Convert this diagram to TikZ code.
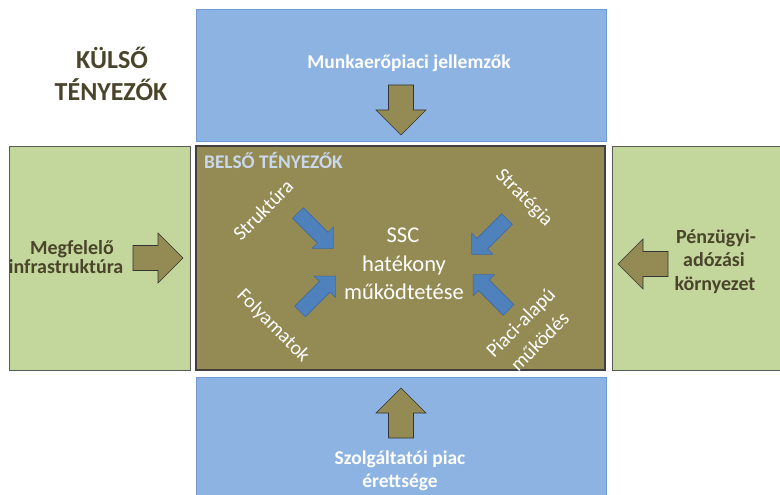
\documentclass[tikz,border=0pt]{standalone}
\usepackage{fontspec}
\setmainfont{Carlito}
\definecolor{boxblue}{HTML}{8DB3E2}
\definecolor{boxblueline}{HTML}{6E9BD4}
\definecolor{boxgreen}{HTML}{C3D69B}
\definecolor{olivefill}{HTML}{948A54}
\definecolor{olivetext}{HTML}{4A452A}
\definecolor{arrowblue}{HTML}{4F81BD}
\definecolor{arrowblueline}{HTML}{3C6AA3}
\definecolor{paleblue}{HTML}{CAD8EC}
\begin{document}
\begin{tikzpicture}[x=1pt,y=-1pt,
  panel/.style={anchor=north west,inner sep=0pt,outer sep=0pt},
  bluepanel/.style={panel,fill=boxblue,draw=boxblueline,line width=0.9pt},
  greenpanel/.style={panel,fill=boxgreen,draw=black!65,line width=0.9pt},
  innerpanel/.style={panel,fill=olivefill,draw=black!75,line width=1.3pt},
  darklabel/.style={anchor=base,inner sep=0pt,text=olivetext,font=\fontsize{20}{24}\selectfont\bfseries},
  whitelabel/.style={anchor=base,inner sep=0pt,text=white,font=\fontsize{19.5}{23}\selectfont\bfseries},
  factor/.style={anchor=center,inner sep=0pt,text=white,font=\fontsize{20}{27}\selectfont},
  coretext/.style={anchor=base,inner sep=0pt,text=white,font=\fontsize{22.5}{27}\selectfont},
  olivearrow/.style={fill=olivefill,draw=black!80,line width=0.6pt},
  bluearrow/.style={fill=arrowblue,draw=arrowblueline,line width=0.6pt},
  bigarrow/.pic={\path[pic actions] (0,-12.5) -- (25,-12.5) -- (25,-25) -- (50,0)
      -- (25,25) -- (25,12.5) -- (0,12.5) -- cycle;},
  smallarrow/.pic={\path[pic actions] (0,-7.5) -- (35,-7.5) -- (35,-15) -- (50,0)
      -- (35,15) -- (35,7.5) -- (0,7.5) -- cycle;}
]
\clip (0,0) rectangle (780,495);
\fill[white] (0,0) rectangle (780,495);

% outer panels
\node[bluepanel,minimum width=410pt,minimum height=132pt] (labour) at (196,9) {};
\node[bluepanel,minimum width=410pt,minimum height=130pt] (market) at (196,377) {};
\node[greenpanel,minimum width=181pt,minimum height=224pt] (infra) at (9,146) {};
\node[greenpanel,minimum width=180pt,minimum height=224pt] (finance) at (612,146) {};
% inner panel
\node[innerpanel,minimum width=409pt,minimum height=224pt] (inner) at (196,146) {};

% headings
\node[anchor=base,inner sep=0pt,text=olivetext,font=\fontsize{26}{32}\selectfont\bfseries] (ext1) at (112,69) {KÜLSŐ};
\node[anchor=base,inner sep=0pt,text=olivetext,font=\fontsize{26}{32}\selectfont\bfseries] (ext2) at (111,101) {TÉNYEZŐK};
\node[anchor=base west,inner sep=0pt,text=paleblue,font=\fontsize{19.3}{22}\selectfont\bfseries] (intl) at (204,168) {BELSŐ TÉNYEZŐK};

% outer factor labels
\node[whitelabel] (lab) at (409,69) {Munkaerőpiaci jellemzők};
\node[whitelabel] (mkt1) at (400,464) {Szolgáltatói piac};
\node[whitelabel] (mkt2) at (400,487) {érettsége};
\node[darklabel] (inf1) at (72,254) {Megfelelő};
\node[darklabel] (inf2) at (66,273) {infrastruktúra};
\node[darklabel] (fin1) at (716,243) {Pénzügyi-};
\node[darklabel] (fin2) at (714,266) {adózási};
\node[darklabel] (fin3) at (715,290) {környezet};

% olive arrows pointing inwards
\pic[olivearrow,rotate=-90] at (401,85) {bigarrow};
\pic[olivearrow,rotate=90] at (401,438) {bigarrow};
\pic[olivearrow] at (133,258) {bigarrow};
\pic[olivearrow,rotate=180] at (668,264) {bigarrow};

% core goal
\node[coretext] (core1) at (403,242) {SSC};
\node[coretext] (core2) at (404,271) {hatékony};
\node[coretext] (core3) at (404,299) {működtetése};

% internal factors
\node[factor,rotate=45] (struct) at (263,210) {Struktúra};
\node[factor,rotate=-45] (strat) at (524,198) {Stratégia};
\node[factor,rotate=-45] (proc) at (273,326) {Folyamatok};
\node[factor,rotate=45,align=center] (mktop) at (530,332) {Piaci-alapú\\működés};

% blue arrows towards the core
\pic[bluearrow,rotate=-45] at (298,213) {smallarrow};
\pic[bluearrow,rotate=-135] at (507,219) {smallarrow};
\pic[bluearrow,rotate=45] at (300,311.5) {smallarrow};
\pic[bluearrow,rotate=135] at (508.5,310) {smallarrow};
\end{tikzpicture}
\end{document}
